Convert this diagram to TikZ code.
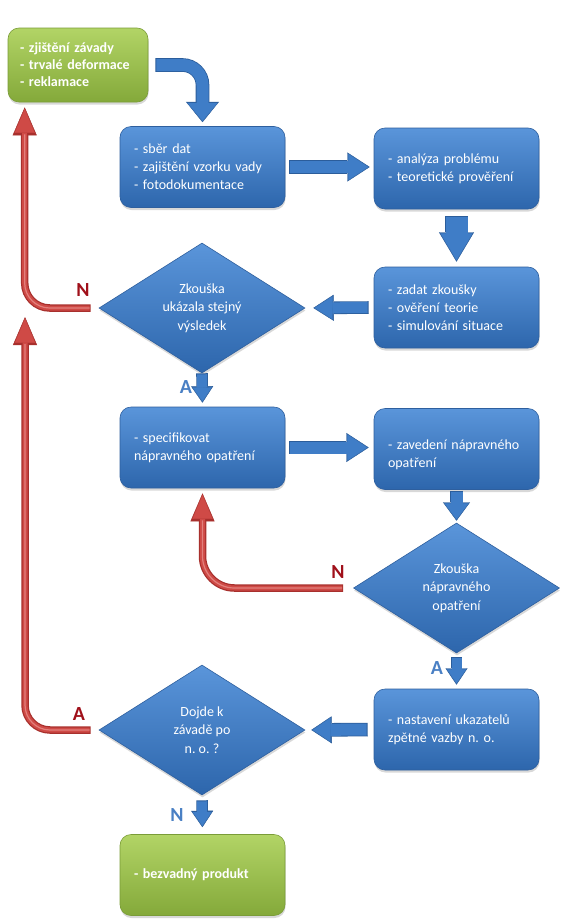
\documentclass[tikz,border=0pt]{standalone}
\usepackage{fontspec}
\setmainfont{Carlito}
\frenchspacing
\usetikzlibrary{shapes.geometric,arrows.meta,calc,shadows}
\definecolor{bluetop}{HTML}{5A95DA}
\definecolor{bluebot}{HTML}{2D66AC}
\definecolor{blueedge}{HTML}{2E5F9E}
\definecolor{greentop}{HTML}{B2D466}
\definecolor{greenbot}{HTML}{84A93A}
\definecolor{greenedge}{HTML}{7A9C38}
\definecolor{arrout}{HTML}{2B5D9B}
\definecolor{arrin}{HTML}{3F7DC7}
\definecolor{reddark}{HTML}{A8302D}
\definecolor{redmid}{HTML}{CF4A46}
\definecolor{redlight}{HTML}{E2807C}
\definecolor{labred}{HTML}{A0101A}
\definecolor{labblue}{HTML}{4A80C4}
\newcommand{\blkarrow}[6]{%
  \pgfmathsetmacro\bwo{#1+1.6}\pgfmathsetmacro\hwo{#2+3}\pgfmathsetmacro\hlo{#3+2.4}%
  \pgfmathsetmacro\sso{#4+1}\pgfmathsetmacro\seo{#5+1.3}%
  \draw[draw=arrout, line width=\bwo pt, -{Triangle[width=\hwo pt,length=\hlo pt,line width=0.4pt]}, shorten <=#4pt, shorten >=#5pt] #6;
  \draw[draw=arrin, line width=#1pt, -{Triangle[width=#2pt,length=#3pt,line width=0.4pt]}, shorten <=\sso pt, shorten >=\seo pt] #6;}
\newcommand{\redarr}[3]{%
  \pgfmathsetmacro\rsa{#1+1.2}\pgfmathsetmacro\rsb{#2+1.6}\pgfmathsetmacro\rsc{#2+27}%
  \draw[draw=reddark, line width=7.5pt, -{Triangle[width=24pt,length=28pt,line width=0.4pt]}, shorten <=#1pt, shorten >=#2pt] #3;
  \draw[draw=redmid, line width=5pt, -{Triangle[width=20pt,length=24pt,line width=0.4pt]}, shorten <=\rsa pt, shorten >=\rsb pt] #3;
  \draw[draw=redlight, line width=1.2pt, shorten <=\rsa pt, shorten >=\rsc pt] #3;}
\tikzset{
  txt/.style={text=white, font=\fontsize{14pt}{18pt}\selectfont},
  bluebox/.style={txt, rounded corners=11pt, draw=blueedge, line width=0.6pt,
    top color=bluetop, bottom color=bluebot, minimum width=165pt, minimum height=81pt,
    text width=137pt, inner xsep=14pt, inner ysep=0pt, align=left,
    drop shadow={shadow xshift=0.5pt, shadow yshift=-2.5pt, opacity=0.3}},
  greenbox/.style={bluebox, draw=greenedge, top color=greentop, bottom color=greenbot,
    font=\fontsize{14pt}{17pt}\selectfont\bfseries},
  dia/.style={txt, diamond, shape aspect=1.6, draw=blueedge, line width=0.6pt,
    top color=bluetop, bottom color=bluebot, minimum width=206pt, minimum height=130pt,
    inner sep=0pt, align=center, font=\fontsize{14pt}{18.5pt}\selectfont,
    drop shadow={shadow xshift=0.5pt, shadow yshift=-2.5pt, opacity=0.3}},
  redlab/.style={text=labred, font=\fontsize{20pt}{20pt}\selectfont\bfseries},
  bluelab/.style={text=labblue, font=\fontsize{20pt}{20pt}\selectfont\bfseries}
}
\begin{document}
\begin{tikzpicture}[x=1pt,y=-1pt]
\fill[white] (0,0) rectangle (580,924);
\useasboundingbox (0,0) rectangle (580,924);
% nodes
\node[greenbox, minimum width=140pt, minimum height=74pt, text width=116pt, inner xsep=12pt] (g1) at (78,65) {- zjištění závady\\- trvalé deformace\\- reklamace};
\node[bluebox] (s1) at (202.5,167) {- sběr dat\\- zajištění vzorku vady\\- fotodokumentace};
\node[bluebox] (a1) at (456.5,168.5) {- analýza problému\\- teoretické prověření};
\node[bluebox] (z1) at (456.5,307.5) {- zadat zkoušky\\- ověření teorie\\- simulování situace};
\node[dia] (d1) at (202,308) {Zkouška\\ukázala stejný\\výsledek};
\node[bluebox] (sp) at (202.5,447.5) {- specifikovat\\nápravného opatření};
\node[bluebox, text depth=9pt] (zv) at (456.5,449) {- zavedení nápravného\\opatření};
\node[dia] (d2) at (456.5,588) {Zkouška\\nápravného\\opatření};
\node[bluebox] (ns) at (456.5,729.5) {- nastavení ukazatelů\\zpětné vazby n. o.};
\node[dia] (d3) at (202,730) {Dojde k\\závadě po\\n. o. ?};
\node[greenbox] (bz) at (202.5,875) {- bezvadný produkt};
\coordinate (t1) at ($(g1.south west)+(17,5)$);
\coordinate (t2) at (25,317);
% blue arrows
\blkarrow{12}{30}{18}{7}{4}{(g1.east) [rounded corners=20pt] -| (s1.north)}
\blkarrow{12}{26}{20}{4}{4}{(s1.east) -- (s1.east -| a1.west)}
\blkarrow{22}{32}{27}{7}{5}{(a1.south) -- (z1.north)}
\blkarrow{11}{23}{18}{5}{8}{(z1.west) -- (d1.east)}
\blkarrow{10}{19}{14}{0}{4}{(d1.south) -- (sp.north)}
\blkarrow{12}{26}{20}{4}{5}{(sp.east) -- (sp.east -| zv.west)}
\blkarrow{12}{24}{16}{1}{2}{(zv.south) -- (d2.north)}
\blkarrow{10}{19}{14}{4}{4}{(d2.south) -- (ns.north)}
\blkarrow{12}{24}{18}{6}{6}{(ns.west) -- (d3.east)}
\blkarrow{10}{19}{14}{5}{7}{(d3.south) -- (bz.north)}
% red arrows
\redarr{8}{0}{(d1.west) [rounded corners=25pt] -| (t1)}
\redarr{8}{0}{(d3.west) [rounded corners=25pt] -| (t2)}
\redarr{10}{5}{(d2.west) [rounded corners=32pt] -| (sp.south)}
% labels
\node[redlab] (ln1) at (83,290) {N};
\node[bluelab] (la1) at (186,387) {A};
\node[redlab] (ln2) at (338,572) {N};
\node[bluelab] (la2) at (437,668) {A};
\node[redlab] (la3) at (79,714) {A};
\node[bluelab] (ln3) at (177,815) {N};
\end{tikzpicture}
\end{document}
